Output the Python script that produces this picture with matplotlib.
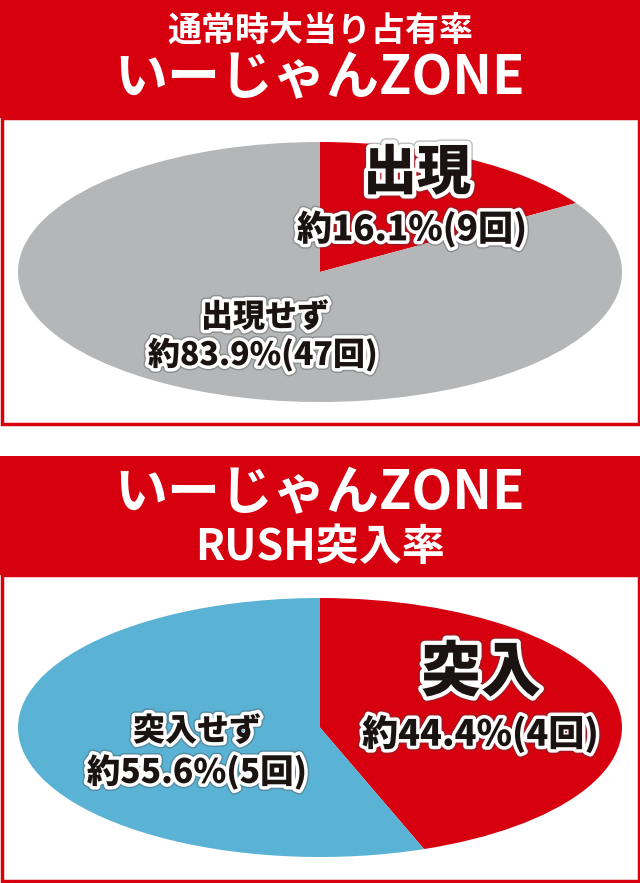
import matplotlib
matplotlib.use("Agg")
import matplotlib.pyplot as plt
import matplotlib.patches as mpatches
import matplotlib.patheffects as pe

plt.rcParams['font.family'] = ['Noto Sans CJK JP', 'DejaVu Sans']

RED = '#d7000f'
GRAY = '#b5b6b8'
BLUE = '#5ab2d4'
INK = '#1a1311'

# Data
top_title1 = '通常時大当り占有率'
top_title2 = 'いーじゃんZONE'
top_labels = ['出現', '出現せず']
top_values = [16.1, 83.9]
top_counts = [9, 47]

bot_title1 = 'いーじゃんZONE'
bot_title2 = 'RUSH突入率'
bot_labels = ['突入', '突入せず']
bot_values = [44.4, 55.6]
bot_counts = [4, 5]

W, H = 640, 883
fig = plt.figure(figsize=(W / 100, H / 100), dpi=100)
bg = fig.add_axes([0, 0, 1, 1])
bg.set_xlim(0, W)
bg.set_ylim(H, 0)
bg.axis('off')


def px(size):
    return size * 72 / 100


def panel(y0, yh, y1, t1, t2, s1, s2, ty1, ty2):
    bg.add_patch(mpatches.Rectangle((0, y0), W, yh - y0, color=RED, lw=0))
    bg.add_patch(mpatches.Rectangle((1.5, yh), W - 3, y1 - yh - 1.5,
                                    facecolor='white', edgecolor=RED, lw=2.5))
    bg.text(W / 2, ty1, t1, color='white', fontsize=px(s1), fontweight='bold',
            ha='center', va='center')
    bg.text(W / 2, ty2, t2, color='white', fontsize=px(s2), fontweight='bold',
            ha='center', va='center')


panel(0, 118, 425, top_title1, top_title2, 34, 53, 30, 79)
panel(456, 575, 882, bot_title1, bot_title2, 53, 43, 494, 547)


def pie_axes(x0, y0, x1, y1, values, colors):
    ax = fig.add_axes([x0 / W, 1 - y1 / H, (x1 - x0) / W, (y1 - y0) / H])
    ax.pie(values, colors=colors, startangle=90, counterclock=False,
           wedgeprops=dict(linewidth=0))
    ax.set_aspect('auto')
    ax.set_xlim(-1, 1)
    ax.set_ylim(-1, 1)
    ax.axis('off')
    return ax


pie_axes(18, 142, 622, 402, top_values, [RED, GRAY])
pie_axes(18, 598, 622, 857, bot_values, [RED, BLUE])

ov = fig.add_axes([0, 0, 1, 1])
ov.set_xlim(0, W)
ov.set_ylim(H, 0)
ov.axis('off')
ov.patch.set_alpha(0)


def label(x, y, text, size, sw=5):
    t = ov.text(x, y, text, color=INK, fontsize=px(size), fontweight='heavy',
                ha='center', va='center', zorder=10)
    t.set_path_effects([pe.Stroke(linewidth=sw + 2, foreground='#444444', alpha=0.35),
                        pe.Stroke(linewidth=sw, foreground='white'),
                        pe.Normal()])


def pct(v, c):
    return f'約{v}%({c}回)'


label(417, 173, top_labels[0], 54, 6)
label(412, 229, pct(top_values[0], top_counts[0]), 35)
label(265, 317, top_labels[1], 32)
label(263, 355, pct(top_values[1], top_counts[1]), 32)

label(481, 673, bot_labels[0], 60, 6)
label(480, 734, pct(bot_values[0], bot_counts[0]), 36)
label(197, 731, bot_labels[1], 32)
label(197, 772, pct(bot_values[1], bot_counts[1]), 33.5)

fig.savefig('out.png', dpi=100)
